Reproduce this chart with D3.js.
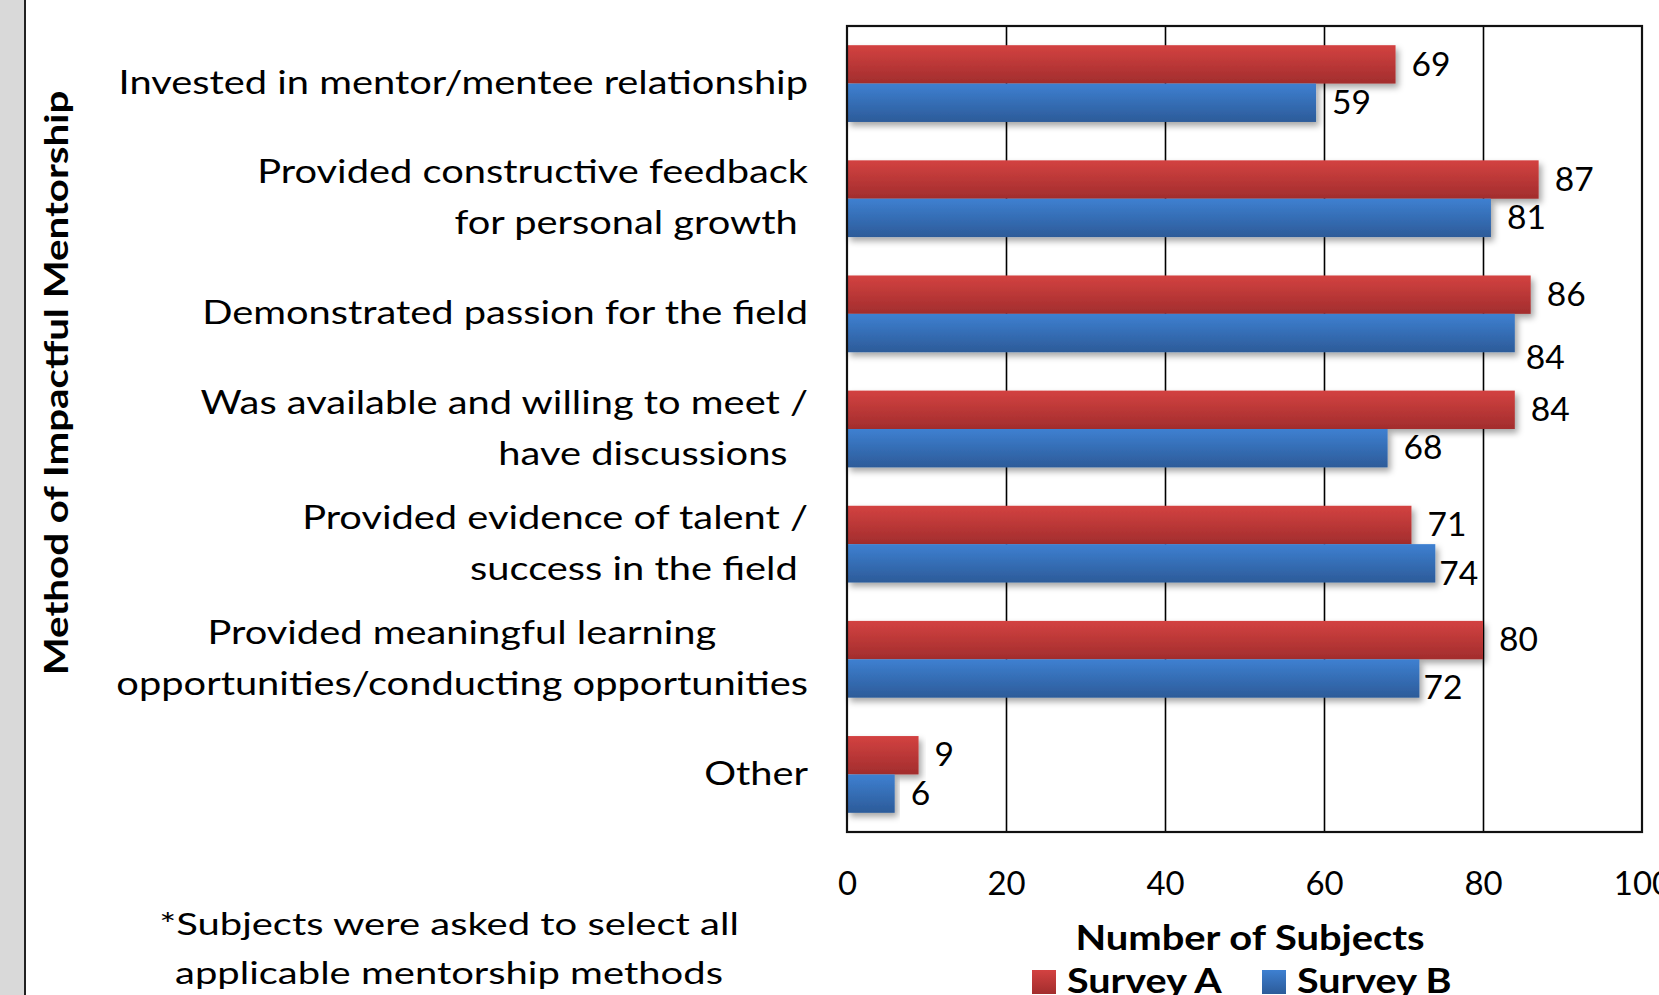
<!DOCTYPE html>
<meta charset="utf-8">
<style>
body { margin: 0; background: #fff; }
svg text { font-family: Lato, "Noto Sans", sans-serif; fill: #000; }
.cat text { white-space: pre; }
.grid line { stroke: #000; stroke-width: 1.6; }
.frame { fill: none; stroke: #111; stroke-width: 2.2; }
</style>
<svg id="chart" width="1659" height="995"></svg>
<script src="https://d3js.org/d3.v7.min.js"></script>
<script>

// data
var categories = [
  ["Invested in mentor/mentee relationship"],
  ["Provided constructive feedback", "for personal growth "],
  ["Demonstrated passion for the field"],
  ["Was available and willing to meet /", "have discussions  "],
  ["Provided evidence of talent /", "success in the field "],
  ["Provided meaningful learning         ", "opportunities/conducting opportunities"],
  ["Other"]
];
var surveyA = [69, 87, 86, 84, 71, 80, 9];
var surveyB = [59, 81, 84, 68, 74, 72, 6];
var seriesNames = ["Survey A", "Survey B"];
var xTicks = [0, 20, 40, 60, 80, 100];
var xTitle = "Number of Subjects";
var yTitle = "Method of Impactful Mentorship";
var footnote = ["*Subjects were asked to select all", "applicable mentorship methods"];

// a few data labels were dragged by hand in the original
var labelNudge = { "1-2": [-5, 25], "1-4": [-12, 10], "1-5": [-12, 9] };

var svg = d3.select("#chart");
var plotL = 847, plotR = 1642, plotT = 26, plotB = 832;

var x = d3.scaleLinear().domain([0, 100]).range([plotL, plotR]);
var y = d3.scaleBand()
    .domain(d3.range(categories.length))
    .range([plotT, plotB])
    .paddingInner(1 / 3)
    .paddingOuter(1 / 6);
var ySub = d3.scaleBand().domain([0, 1]).range([0, y.bandwidth()]);

var colors = [["#d34241", "#a22d2d"], ["#3e80d1", "#2c5b99"]];

var defs = svg.append("defs");
colors.forEach(function(c, i) {
  var g = defs.append("linearGradient")
      .attr("id", "grad" + i)
      .attr("x1", 0).attr("y1", 0).attr("x2", 0).attr("y2", 1);
  g.append("stop").attr("offset", "0%").attr("stop-color", c[0]);
  g.append("stop").attr("offset", "100%").attr("stop-color", c[1]);
});
var shadow = defs.append("filter").attr("id", "shadow")
    .attr("x", "-5%").attr("y", "-20%").attr("width", "115%").attr("height", "160%");
shadow.append("feDropShadow")
    .attr("dx", 3).attr("dy", 4).attr("stdDeviation", 3)
    .attr("flood-color", "#000").attr("flood-opacity", 0.35);

// left grey strip of the page
svg.append("rect").attr("x", 0).attr("y", 0).attr("width", 24).attr("height", 995).attr("fill", "#d9d9d9");
svg.append("line").attr("x1", 25).attr("x2", 25).attr("y1", 0).attr("y2", 995)
    .attr("stroke", "#222").attr("stroke-width", 2);

// stretched text helper (the original is widened)
function put(sel, px, py, sx, rot) {
  sel.attr("transform", "translate(" + px + "," + py + ")" + (rot ? " rotate(" + rot + ")" : "") + " scale(" + sx + ",1)");
  return sel;
}

// gridlines
svg.append("g")
    .attr("class", "grid")
    .attr("transform", "translate(0," + plotB + ")")
    .call(d3.axisBottom(x).tickValues(xTicks.slice(1, -1)).tickSize(-(plotB - plotT)).tickFormat(""))
    .select(".domain").remove();

// bars
var rows = categories.map(function(c, i) { return [surveyA[i], surveyB[i]]; });
var groups = svg.append("g").selectAll("g")
    .data(rows)
    .enter().append("g")
      .attr("transform", function(d, i) { return "translate(0," + y(i) + ")"; });

groups.selectAll("rect")
    .data(function(d) { return d; })
    .enter().append("rect")
      .attr("x", x(0))
      .attr("y", function(d, s) { return ySub(s); })
      .attr("width", function(d) { return x(d) - x(0); })
      .attr("height", ySub.bandwidth())
      .attr("fill", function(d, s) { return "url(#grad" + s + ")"; })
      .attr("filter", "url(#shadow)");

// frame
svg.append("rect").attr("class", "frame")
    .attr("x", plotL).attr("y", plotT)
    .attr("width", plotR - plotL).attr("height", plotB - plotT);

// data labels
groups.each(function(d, i) {
  d3.select(this).selectAll("text")
    .data(d)
    .enter().append("text")
      .attr("font-size", 32)
      .attr("dy", "0.35em")
      .text(function(v) { return v; })
      .each(function(v, s) {
        var n = labelNudge[s + "-" + i] || [0, 0];
        put(d3.select(this), x(v) + 16 + n[0], ySub(s) + ySub.bandwidth() / 2 + n[1], 1.05);
      });
});

// category labels
var catG = svg.append("g").attr("class", "cat").selectAll("g")
    .data(categories)
    .enter().append("g");
var lineH = 51;
catG.each(function(lines, i) {
  var cy = y(i) + y.bandwidth() / 2;
  d3.select(this).selectAll("text")
    .data(lines)
    .enter().append("text")
      .attr("font-size", 32)
      .attr("text-anchor", "end")
      .attr("dy", "0.32em")
      .text(function(t) { return t; })
      .each(function(t, k) {
        put(d3.select(this), 808, cy + (k - (lines.length - 1) / 2) * lineH, 1.245);
      });
});

// x tick labels
var xAxis = svg.append("g")
    .attr("transform", "translate(0," + plotB + ")")
    .call(d3.axisBottom(x).tickValues(xTicks).tickSize(0).tickPadding(0));
xAxis.select(".domain").remove();
xAxis.selectAll("text")
    .attr("font-size", 32)
    .attr("font-family", null)
    .attr("fill", null)
    .attr("dy", 0)
    .attr("y", 63)
    .attr("transform", "scale(1.03,1)");

// axis titles
put(svg.append("text"), 68, 383, 1.22, -90)
    .attr("text-anchor", "middle")
    .attr("font-size", 33)
    .attr("font-weight", "bold")
    .text(yTitle);

put(svg.append("text"), 1250, 950, 1.14)
    .attr("text-anchor", "middle")
    .attr("font-size", 35)
    .attr("font-weight", "bold")
    .text(xTitle);

// legend
var legend = svg.append("g").selectAll("g")
    .data(seriesNames)
    .enter().append("g")
      .attr("transform", function(d, i) { return "translate(" + (1032 + i * 230) + ",970)"; });
legend.append("rect")
    .attr("width", 24).attr("height", 24)
    .attr("fill", function(d, i) { return "url(#grad" + i + ")"; });
legend.append("text")
    .attr("font-size", 35)
    .attr("font-weight", "bold")
    .attr("transform", "translate(35,23) scale(1.13,1)")
    .text(function(d) { return d; });

// footnote
svg.append("g").selectAll("text")
    .data(footnote)
    .enter().append("text")
      .attr("text-anchor", "middle")
      .attr("font-size", 31)
      .text(function(d) { return d; })
      .each(function(d, k) { put(d3.select(this), 449, 935 + k * 49, 1.29); });

</script>
